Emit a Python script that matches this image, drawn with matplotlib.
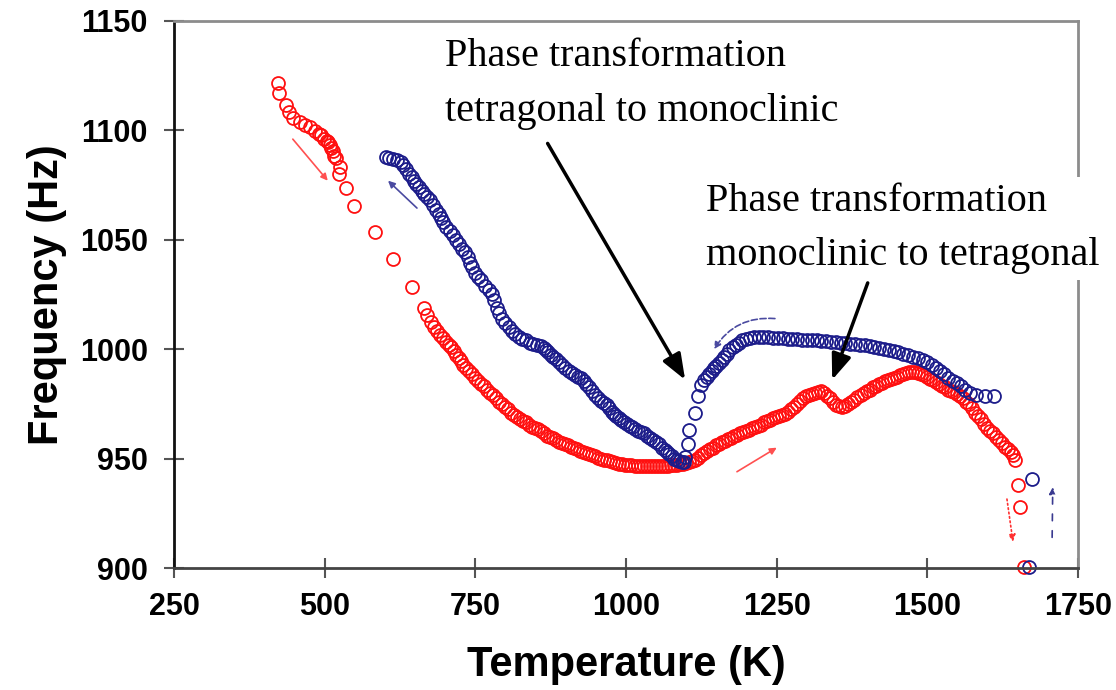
import numpy as np
import matplotlib.pyplot as plt

# heating run (red) - temperature in K, frequency in Hz
red_T = [423, 424, 435, 440, 448, 459, 467, 476, 484, 490, 493, 498, 503, 505, 508, 511, 513,
         516, 518, 523, 526, 536, 548, 584, 614, 644,
         664, 670, 676, 681, 686, 692, 697, 701, 706, 710, 714, 718, 722, 726, 730, 734, 739,
         744, 749, 754, 759, 764, 769, 774, 779, 784, 789, 794, 799, 804, 809, 814, 819, 824,
         829, 834, 839, 844, 849, 854, 859, 864, 869, 874, 879, 884, 889, 894, 899, 904, 909,
         914, 919, 924, 929, 934, 939, 944, 949, 954, 959, 964, 969, 974, 979, 984, 989, 994,
         999, 1004, 1009, 1014, 1019, 1024, 1029, 1034, 1039, 1044, 1049, 1054, 1059, 1064,
         1069, 1074, 1079, 1084, 1089, 1094, 1099, 1104, 1109, 1114, 1119, 1124, 1129, 1134,
         1139, 1144, 1149, 1154, 1159, 1164, 1169, 1174, 1179, 1184, 1189, 1194, 1199, 1204,
         1209, 1214, 1219, 1224, 1229, 1234, 1239, 1244, 1249, 1254, 1259, 1264, 1269, 1274,
         1279, 1284, 1289, 1294, 1299, 1304, 1309, 1314, 1319, 1324, 1329, 1334, 1339, 1344,
         1349, 1354, 1359, 1364, 1369, 1374, 1379, 1384, 1389, 1394, 1399, 1404, 1409, 1414,
         1419, 1424, 1429, 1434, 1439, 1444, 1449, 1454, 1459, 1464, 1469, 1474, 1479, 1484,
         1489, 1494, 1499, 1504, 1509, 1514, 1519, 1524, 1529, 1534, 1539, 1544, 1549, 1554,
         1559, 1564, 1569, 1574, 1579, 1584, 1589, 1594, 1599, 1604, 1609, 1614, 1619, 1624,
         1629, 1634, 1638, 1642, 1646, 1650, 1653, 1660]
red_F = [1121.5, 1117.0, 1111.6, 1108.4, 1105.7, 1103.8, 1102.5, 1101.6, 1099.5, 1098.5, 1097.9, 1096.0, 1095.0, 1094.5, 1093.5, 1092.0, 1090.5,
         1088.5, 1087.4, 1080.0, 1083.3, 1073.7, 1065.5, 1053.6, 1041.2, 1028.4,
         1019.0, 1015.5, 1012.5, 1010.0, 1008.5, 1006.5, 1005.0, 1003.5, 1002.0, 1001.0, 999.0, 997.5, 996.0, 994.5, 993.0, 991.5, 990.0,
         988.5, 987.0, 985.5, 984.0, 983.0, 981.5, 980.0, 979.0, 977.5, 976.0, 975.0, 973.5, 972.5, 971.0, 970.0, 969.0, 968.0,
         967.0, 966.5, 965.5, 964.5, 964.0, 963.5, 962.5, 961.5, 960.5, 960.0, 959.5, 958.5, 957.5, 957.0, 956.5, 956.0, 955.5,
         955.0, 954.5, 953.5, 953.0, 952.5, 952.0, 951.5, 951.0, 950.5, 950.0, 949.5, 949.5, 949.0, 948.5, 948.0, 947.5, 947.5,
         947.0, 947.0, 947.0, 946.5, 946.5, 946.5, 946.5, 946.5, 946.5, 946.5, 946.5, 946.5, 946.5, 946.5,
         946.5, 947.0, 947.0, 947.0, 947.5, 947.5, 948.0, 948.5, 949.0, 949.5, 950.5, 951.5, 952.5, 953.5,
         954.5, 955.0, 956.0, 956.5, 957.5, 958.0, 959.0, 959.5, 960.5, 961.0, 961.5, 962.0, 962.5, 963.0,
         964.0, 964.5, 965.0, 965.5, 966.5, 967.0, 967.5, 968.5, 969.0, 969.5, 970.0, 970.5, 971.5, 972.5,
         973.5, 975.0, 976.5, 977.5, 978.5, 979.0, 979.5, 980.0, 980.5, 981.0, 980.0, 978.5, 977.5, 976.0,
         974.5, 974.0, 973.5, 974.0, 975.0, 976.0, 977.0, 978.0, 979.0, 980.0, 981.0, 981.5, 982.5, 983.0,
         984.0, 984.5, 985.5, 986.0, 986.5, 987.0, 987.5, 988.0, 988.5, 989.0, 989.5, 989.5, 989.5, 989.0,
         988.5, 988.0, 987.5, 986.5, 986.0, 985.0, 984.0, 983.0, 982.5, 981.5, 981.0, 980.5, 979.5, 978.5,
         977.5, 976.0, 975.0, 973.0, 971.0, 969.5, 968.0, 966.0, 964.0, 962.5, 961.5, 960.0, 958.5, 957.0,
         955.5, 954.5, 953.0, 951.5, 949.5, 938.0, 928.0, 900.5]

# cooling run (blue)
blue_T = [602, 607, 613, 620, 626, 630, 634, 640, 644, 648, 652, 656, 661, 665, 670, 675, 680,
          685, 689, 693, 697, 702, 707, 712, 717, 722, 727, 732, 737, 741, 745, 750, 755, 760,
          766, 772, 777, 781, 785, 789, 794, 799, 805, 810, 816, 822, 828, 834, 840, 846, 852,
          858, 863, 867, 871, 875, 879, 884, 889, 894, 899, 905, 910, 916, 921, 926, 930, 934,
          938, 943, 948, 953, 958, 963, 968, 972, 976, 980, 984, 988, 992, 997, 1002, 1006, 1010,
          1015, 1020, 1025, 1030, 1035, 1040, 1045, 1050, 1055, 1060, 1064, 1068, 1072, 1076,
          1080, 1084, 1088, 1092, 1096,
          1098, 1102, 1105, 1115, 1120, 1125, 1130, 1134, 1138, 1142, 1146, 1150, 1155, 1159,
          1163, 1167, 1171, 1177, 1183, 1188, 1193, 1199, 1205, 1212, 1220, 1228, 1236, 1244,
          1252, 1260, 1268, 1276, 1284, 1292, 1300, 1308, 1316, 1324, 1332, 1340, 1348, 1356,
          1364, 1372, 1380, 1388, 1396, 1404, 1412, 1420, 1428, 1436, 1444, 1452, 1460, 1468,
          1476, 1484, 1492, 1500, 1507, 1514, 1521, 1528, 1535, 1542, 1549, 1556, 1563, 1570,
          1581, 1595, 1610, 1674, 1669]
blue_F = [1088.0, 1087.5, 1087.0, 1086.5, 1085.5, 1084.0, 1082.5, 1080.0, 1078.5, 1077.0, 1075.5, 1074.0, 1072.5, 1071.0, 1069.5, 1068.0, 1066.0,
          1063.5, 1062.0, 1060.0, 1058.0, 1056.0, 1054.0, 1052.0, 1050.0, 1048.0, 1046.0, 1044.5, 1042.0, 1039.5, 1037.5, 1035.0, 1033.0, 1031.5,
          1029.0, 1027.0, 1025.0, 1022.5, 1019.0, 1016.5, 1014.0, 1012.0, 1010.0, 1008.5, 1007.0, 1005.5, 1004.5, 1004.0, 1003.0, 1002.5, 1002.0,
          1001.5, 1000.5, 999.5, 998.5, 997.5, 996.5, 995.5, 994.0, 993.0, 991.5, 990.0, 989.0, 988.0, 987.5, 987.0, 985.5, 984.0,
          982.5, 981.0, 979.0, 977.5, 976.5, 975.5, 974.5, 973.0, 971.5, 970.5, 969.5, 968.5, 967.5, 966.5, 966.0, 965.0, 964.5,
          963.5, 962.5, 962.0, 961.5, 960.5, 959.5, 958.5, 957.5, 956.5, 955.0, 954.0, 953.0, 952.0, 951.0,
          950.0, 949.5, 949.0, 948.5, 948.5,
          950.7, 956.7, 963.0, 970.8, 978.6, 983.6, 986.0, 987.5, 988.7, 990.0, 991.4, 992.5, 993.7, 995.0,
          996.4, 998.0, 999.6, 1001.0, 1002.0, 1003.0, 1004.0, 1004.8, 1005.3, 1005.6, 1005.6, 1005.5, 1005.5, 1005.3,
          1005.0, 1005.0, 1004.8, 1004.6, 1004.5, 1004.3, 1004.0, 1004.0, 1004.0, 1003.8, 1003.6, 1003.5, 1003.2, 1003.0,
          1002.8, 1002.5, 1002.3, 1002.0, 1001.8, 1001.5, 1001.0, 1000.5, 1000.0, 999.5, 999.0, 998.5, 998.0, 997.3,
          996.5, 995.8, 995.0, 994.0, 993.0, 991.5, 990.0, 988.5, 987.0, 985.5, 984.5, 983.0, 981.5, 980.0,
          979.0, 978.8, 978.8, 940.5, 900.5]

fig = plt.figure(figsize=(11.16, 6.9), dpi=100)
ax = fig.add_axes([0.156, 0.1768, 0.81, 0.7928])

ax.plot(red_T, red_F, 'o', ms=9.3, mfc='none', mec='#ff1010', mew=1.3, clip_on=False)
ax.plot(blue_T, blue_F, 'o', ms=9.3, mfc='none', mec='#1c1c8a', mew=1.3, clip_on=False)

ax.set_xlim(250, 1750)
ax.set_ylim(900, 1150)
ax.set_xticks(np.arange(250, 1751, 250))
ax.set_yticks(np.arange(900, 1151, 50))

tick_font = {'family': 'Liberation Sans', 'weight': 'bold', 'size': 22}
ax.set_xticklabels([str(v) for v in range(250, 1751, 250)], fontdict=tick_font)
ax.set_yticklabels([str(v) for v in range(900, 1151, 50)], fontdict=tick_font)
ax.tick_params(direction='inout', length=14, width=1.5, color='#555555')
ax.tick_params(axis='x', pad=10)
ax.tick_params(axis='y', pad=12)

for side in ['top', 'right']:
    ax.spines[side].set_color('#8c8c8c')
    ax.spines[side].set_linewidth(2)
ax.spines['left'].set_color('#111111')
ax.spines['left'].set_linewidth(2)
ax.spines['bottom'].set_color('#444444')
ax.spines['bottom'].set_linewidth(2)

label_font = {'family': 'Liberation Sans', 'weight': 'bold', 'size': 30}
ax.set_xlabel('Temperature (K)', fontdict=label_font)
ax.set_ylabel('Frequency (Hz)', fontdict=label_font)
ax.xaxis.set_label_coords(0.5, -0.14)
ax.yaxis.set_label_coords(-0.119, 0.5)

# annotations
ax.annotate('Phase transformation\ntetragonal to monoclinic', xy=(1098, 986), xytext=(700, 1142),
            va='top', ha='left', family='Liberation Serif', fontsize=29, linespacing=1.62,
            arrowprops=dict(arrowstyle='-|>,head_length=0.65,head_width=0.25', mutation_scale=24,
                            lw=2.5, color='black', shrinkA=9, shrinkB=0, relpos=(0.24, 0.0)))
ax.annotate('Phase transformation\nmonoclinic to tetragonal', xy=(1342, 986), xytext=(1132, 1076),
            va='top', ha='left', family='Liberation Serif', fontsize=29, linespacing=1.62,
            bbox=dict(boxstyle='square,pad=0.15', fc='white', ec='none'),
            arrowprops=dict(arrowstyle='-|>,head_length=0.65,head_width=0.25', mutation_scale=24,
                            lw=2.5, color='black', shrinkA=2, shrinkB=0, relpos=(0.42, 0.0)))

# small direction arrows
ax.annotate('', xy=(505, 1077), xytext=(447, 1096),
            arrowprops=dict(arrowstyle='-|>', mutation_scale=10, lw=1.2, color='#ff5050', shrinkA=0, shrinkB=0))
ax.annotate('', xy=(605, 1077), xytext=(653, 1064.5),
            arrowprops=dict(arrowstyle='-|>', mutation_scale=10, lw=1.2, color='#4a4aa0', shrinkA=0, shrinkB=0))
ax.annotate('', xy=(1146, 1000), xytext=(1247, 1014),
            arrowprops=dict(arrowstyle='-|>', mutation_scale=10, lw=1.2, ls='--', color='#4a4aa0',
                            shrinkA=0, shrinkB=0, connectionstyle='arc3,rad=0.3'))
ax.annotate('', xy=(1250, 955), xytext=(1184, 944),
            arrowprops=dict(arrowstyle='-|>', mutation_scale=10, lw=1.2, color='#ff5050', shrinkA=0, shrinkB=0))
ax.annotate('', xy=(1642, 912), xytext=(1632, 931.5),
            arrowprops=dict(arrowstyle='-|>', mutation_scale=10, lw=1.2, ls=':', color='#ff3030', shrinkA=0, shrinkB=0))
ax.annotate('', xy=(1708, 937), xytext=(1707, 914),
            arrowprops=dict(arrowstyle='-|>', mutation_scale=10, lw=1.2, ls=(0, (4, 6)), color='#3a3a90', shrinkA=0, shrinkB=0))

plt.savefig('out.png', dpi=100)
